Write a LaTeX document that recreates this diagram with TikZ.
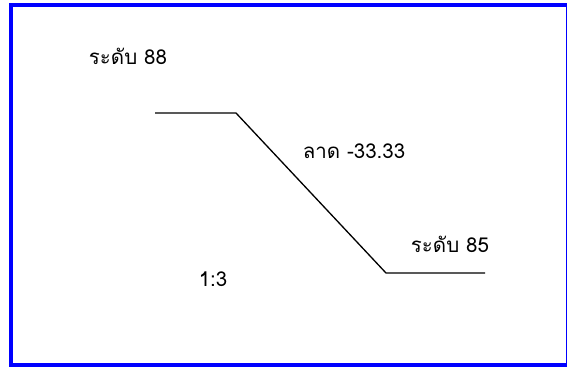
\documentclass[tikz,border=0pt]{standalone}
\usepackage{fontspec}
\newfontfamily\thaifont[Script=Thai]{Loma}
\usepackage{tikz}
\usetikzlibrary{positioning}
\definecolor{frameblue}{RGB}{0,0,255}

\begin{document}
\begin{tikzpicture}[x=1pt,y=-1pt,
  lbl/.style={font=\thaifont\fontsize{20.5}{24}\selectfont,inner sep=0pt,text=black},
  profile/.style={black,line width=1.3pt}
]
\useasboundingbox (0,0) rectangle (568,367);
\fill[white] (0,0) rectangle (568,367);
% frame
\draw[frameblue,line width=4pt] (566.5,5) -- (11,5) -- (11,365) -- (566.5,365);
\draw[frameblue,line width=1pt] (566.5,5) -- (566.5,365);
% profile points
\coordinate (top0) at (155,113);
\coordinate (top1) at (236,113);
\coordinate (bot0) at (386,273);
\coordinate (bot1) at (485,273);
\draw[profile] (top0) -- (top1) -- (bot0) -- (bot1);
% labels
\node[lbl] (lev88) at (128,56) {ระดับ 88};
\node[lbl] (slope) at (354,151) {ลาด -33.33};
\node[lbl] (lev85) at (450,244) {ระดับ 85};
\node[lbl] (ratio) at (213,279) {1:3};
\end{tikzpicture}
\end{document}
